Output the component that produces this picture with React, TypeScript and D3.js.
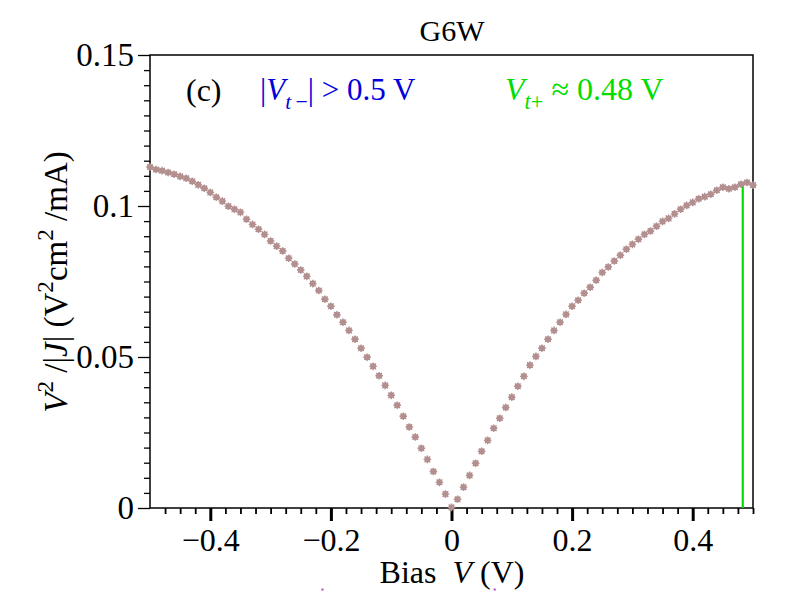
import * as d3 from "d3";
import { useRef, useEffect } from "react";

// bias voltage (V) and V^2/|J| (V^2 cm^2/mA)
const bias = [
  -0.5, -0.49, -0.48, -0.47, -0.46, -0.45, -0.44, -0.43, -0.42, -0.41,
  -0.4, -0.39, -0.38, -0.37, -0.36, -0.35, -0.34, -0.33, -0.32, -0.31,
  -0.3, -0.29, -0.28, -0.27, -0.26, -0.25, -0.24, -0.23, -0.22, -0.21,
  -0.2, -0.19, -0.18, -0.17, -0.16, -0.15, -0.14, -0.13, -0.12, -0.11,
  -0.1, -0.09, -0.08, -0.07, -0.06, -0.05, -0.04, -0.03, -0.02, -0.01,
  0, 0.01, 0.02, 0.03, 0.04, 0.05, 0.06, 0.07, 0.08, 0.09,
  0.1, 0.11, 0.12, 0.13, 0.14, 0.15, 0.16, 0.17, 0.18, 0.19,
  0.2, 0.21, 0.22, 0.23, 0.24, 0.25, 0.26, 0.27, 0.28, 0.29,
  0.3, 0.31, 0.32, 0.33, 0.34, 0.35, 0.36, 0.37, 0.38, 0.39,
  0.4, 0.41, 0.42, 0.43, 0.44, 0.45, 0.46, 0.47, 0.48, 0.49, 0.5,
];

const ratio = [
  0.1129, 0.1121, 0.1117, 0.1111, 0.1105, 0.1098, 0.1092, 0.1082, 0.107, 0.1059,
  0.1045, 0.1029, 0.1016, 0.0999, 0.0989, 0.0979, 0.0956, 0.0939, 0.0923, 0.0906,
  0.0884, 0.0867, 0.0851, 0.0827, 0.0808, 0.0788, 0.0767, 0.0743, 0.072, 0.0691,
  0.0668, 0.064, 0.0615, 0.0588, 0.0559, 0.0529, 0.0499, 0.0469, 0.0438, 0.0406,
  0.0373, 0.034, 0.0304, 0.0268, 0.0235, 0.0198, 0.0161, 0.0121, 0.0085, 0.0046,
  0.0002, 0.0029, 0.0069, 0.0108, 0.0148, 0.0188, 0.0224, 0.0264, 0.0297, 0.0333,
  0.0367, 0.0403, 0.0436, 0.0473, 0.0502, 0.0529, 0.0559, 0.0588, 0.0615, 0.0641,
  0.0668, 0.0688, 0.0711, 0.0731, 0.0754, 0.078, 0.0798, 0.0818, 0.0837, 0.0857,
  0.0873, 0.089, 0.0906, 0.0917, 0.0933, 0.0949, 0.0959, 0.0974, 0.0989, 0.1002,
  0.1012, 0.1024, 0.1031, 0.1039, 0.1052, 0.1062, 0.1057, 0.1062, 0.1072, 0.1078, 0.1069,
];

const xMajorTicks = [-0.4, -0.2, 0, 0.2, 0.4];
const yMajorTicks = [0, 0.05, 0.1, 0.15];
const xMinorStep = 0.025;
const yMinorStep = 0.005;

// threshold marker
const vtPlus = 0.483;
const vtPlusTop = 0.1075;

// stray specks below the axis label
const specksX = [-0.214, 0.0716];
const specksY = [-0.027, -0.027];

const FONT = "'Liberation Serif', 'Times New Roman', serif";
const MARKER = "#b38f8f";
const BLUE = "#0000dd";
const GREEN = "#00dd00";

type Part = { t: string; it?: boolean; sup?: boolean; sub?: boolean };

function rich(
  sel: d3.Selection<SVGTextElement, unknown, null, undefined>,
  parts: Part[],
  fs: number
) {
  let shift = 0;
  parts.forEach((p) => {
    const target = p.sup ? -0.42 * fs : p.sub ? 0.28 * fs : 0;
    const ts = sel
      .append("tspan")
      .attr("dy", target - shift)
      .text(p.t);
    if (p.it) ts.attr("font-style", "italic");
    if (p.sup || p.sub) ts.attr("font-size", fs * 0.7);
    shift = target;
  });
}

const Chart = () => {
  const ref = useRef<SVGSVGElement>(null);

  useEffect(() => {
    if (!ref.current) return;
    const svg = d3.select(ref.current);
    svg.selectAll("*").remove();

    const left = 150,
      right = 753,
      top = 55,
      bottom = 508;

    const x = d3.scaleLinear().domain([-0.5, 0.5]).range([left, right]);
    const y = d3.scaleLinear().domain([0, 0.15]).range([bottom, top]);

    const g = svg.append("g").attr("font-family", FONT);

    // minor ticks
    const xMinor = d3
      .range(-0.5 + xMinorStep, 0.5 + 1e-9, xMinorStep)
      .filter((v) => !xMajorTicks.some((m) => Math.abs(m - v) < 1e-6));
    const yMinor = d3
      .range(yMinorStep, 0.15, yMinorStep)
      .filter((v) => !yMajorTicks.some((m) => Math.abs(m - v) < 1e-6));

    const xMinorAxis = g
      .append("g")
      .attr("transform", `translate(0,${bottom})`)
      .call(
        d3
          .axisBottom(x)
          .tickValues(xMinor)
          .tickSize(6)
          .tickFormat(() => "")
      );
    xMinorAxis.select(".domain").remove();
    xMinorAxis.selectAll("line").attr("stroke", "#000").attr("stroke-width", 1.8);

    const xMajorAxis = g
      .append("g")
      .attr("transform", `translate(0,${bottom})`)
      .call(
        d3
          .axisBottom(x)
          .tickValues(xMajorTicks)
          .tickSize(13)
          .tickFormat((d) => d3.format("~g")(d as number))
      );
    xMajorAxis.select(".domain").remove();
    xMajorAxis.selectAll("line").attr("stroke", "#000").attr("stroke-width", 3);
    xMajorAxis
      .selectAll("text")
      .attr("y", 43)
      .attr("dy", 0)
      .attr("fill", "#000")
      .attr("font-size", 32)
      .attr("font-family", FONT);

    const yMinorAxis = g
      .append("g")
      .attr("transform", `translate(${left},0)`)
      .call(
        d3
          .axisLeft(y)
          .tickValues(yMinor)
          .tickSize(6)
          .tickFormat(() => "")
      );
    yMinorAxis.select(".domain").remove();
    yMinorAxis.selectAll("line").attr("stroke", "#000").attr("stroke-width", 1.3);

    const yMajorAxis = g
      .append("g")
      .attr("transform", `translate(${left},0)`)
      .call(
        d3
          .axisLeft(y)
          .tickValues(yMajorTicks)
          .tickSize(12)
          .tickPadding(4)
          .tickFormat((d) => d3.format("~g")(d as number))
      );
    yMajorAxis.select(".domain").remove();
    yMajorAxis.selectAll("line").attr("stroke", "#000").attr("stroke-width", 1.3);
    yMajorAxis
      .selectAll("text")
      .attr("fill", "#000")
      .attr("font-size", 33)
      .attr("font-family", FONT);

    // frame
    g.append("rect")
      .attr("x", left)
      .attr("y", top)
      .attr("width", right - left)
      .attr("height", bottom - top)
      .attr("fill", "none")
      .attr("stroke", "#000")
      .attr("stroke-width", 1.5);

    // threshold line
    g.append("line")
      .attr("x1", x(vtPlus))
      .attr("x2", x(vtPlus))
      .attr("y1", y(0))
      .attr("y2", y(vtPlusTop))
      .attr("stroke", GREEN)
      .attr("stroke-width", 2.2);

    // data markers
    const pts = bias.map((b, i) => ({ b, r: ratio[i] }));
    const marks = g
      .selectAll(".pt")
      .data(pts)
      .enter()
      .append("g")
      .attr("class", "pt")
      .attr("transform", (d) => `translate(${x(d.b)},${y(d.r)})`);
    marks
      .append("circle")
      .attr("r", 3)
      .attr("fill", MARKER);
    marks
      .append("path")
      .attr("d", "M-3.8,0H3.8M0,-3.8V3.8M-2.8,-2.8L2.8,2.8M-2.8,2.8L2.8,-2.8")
      .attr("stroke", MARKER)
      .attr("stroke-width", 1.4)
      .attr("fill", "none");

    // title
    g.append("text")
      .attr("x", 452)
      .attr("y", 41)
      .attr("text-anchor", "middle")
      .attr("font-size", 30)
      .text("G6W");

    // panel label and annotations
    g.append("text")
      .attr("x", 186)
      .attr("y", 101)
      .attr("font-size", 32)
      .text("(c)");

    const blue = g
      .append("text")
      .attr("x", 260)
      .attr("y", 100)
      .attr("font-size", 31)
      .attr("fill", BLUE);
    rich(
      blue,
      [
        { t: "|" },
        { t: "V", it: true },
        { t: "t\u2009", it: true, sub: true },
        { t: "\u2212", sub: true },
        { t: "| > 0.5 V" },
      ],
      31
    );

    const green = g
      .append("text")
      .attr("x", 505)
      .attr("y", 100)
      .attr("font-size", 32)
      .attr("fill", GREEN);
    rich(
      green,
      [
        { t: "V", it: true },
        { t: "t", it: true, sub: true },
        { t: "+", sub: true },
        { t: " \u2248 0.48 V" },
      ],
      32
    );

    // x label
    const xl = g
      .append("text")
      .attr("x", 452)
      .attr("y", 583)
      .attr("text-anchor", "middle")
      .attr("font-size", 32);
    rich(xl, [{ t: "Bias\u00a0\u00a0" }, { t: "V", it: true }, { t: " (V)" }], 32);

    // y label
    const yl = g
      .append("text")
      .attr("transform", "translate(67,282) rotate(-90)")
      .attr("text-anchor", "middle")
      .attr("font-size", 33);
    rich(
      yl,
      [
        { t: "V", it: true },
        { t: "2", sup: true },
        { t: " /|" },
        { t: "J", it: true },
        { t: "| (V" },
        { t: "2", sup: true },
        { t: "cm" },
        { t: "2", sup: true },
        { t: " /mA)" },
      ],
      33
    );

    // specks
    g.selectAll(".speck")
      .data(specksX.map((sx, i) => ({ sx, sy: specksY[i] })))
      .enter()
      .append("rect")
      .attr("class", "speck")
      .attr("x", (d) => x(d.sx) - 1)
      .attr("y", (d) => y(d.sy) - 1)
      .attr("width", 2)
      .attr("height", 2)
      .attr("fill", "#b040c0");
  }, []);

  return (
    <svg
      ref={ref}
      width={792}
      height={612}
      style={{ position: "absolute", left: 0, top: 0, background: "#fff" }}
    />
  );
};

export default function App() {
  return <Chart />;
}
